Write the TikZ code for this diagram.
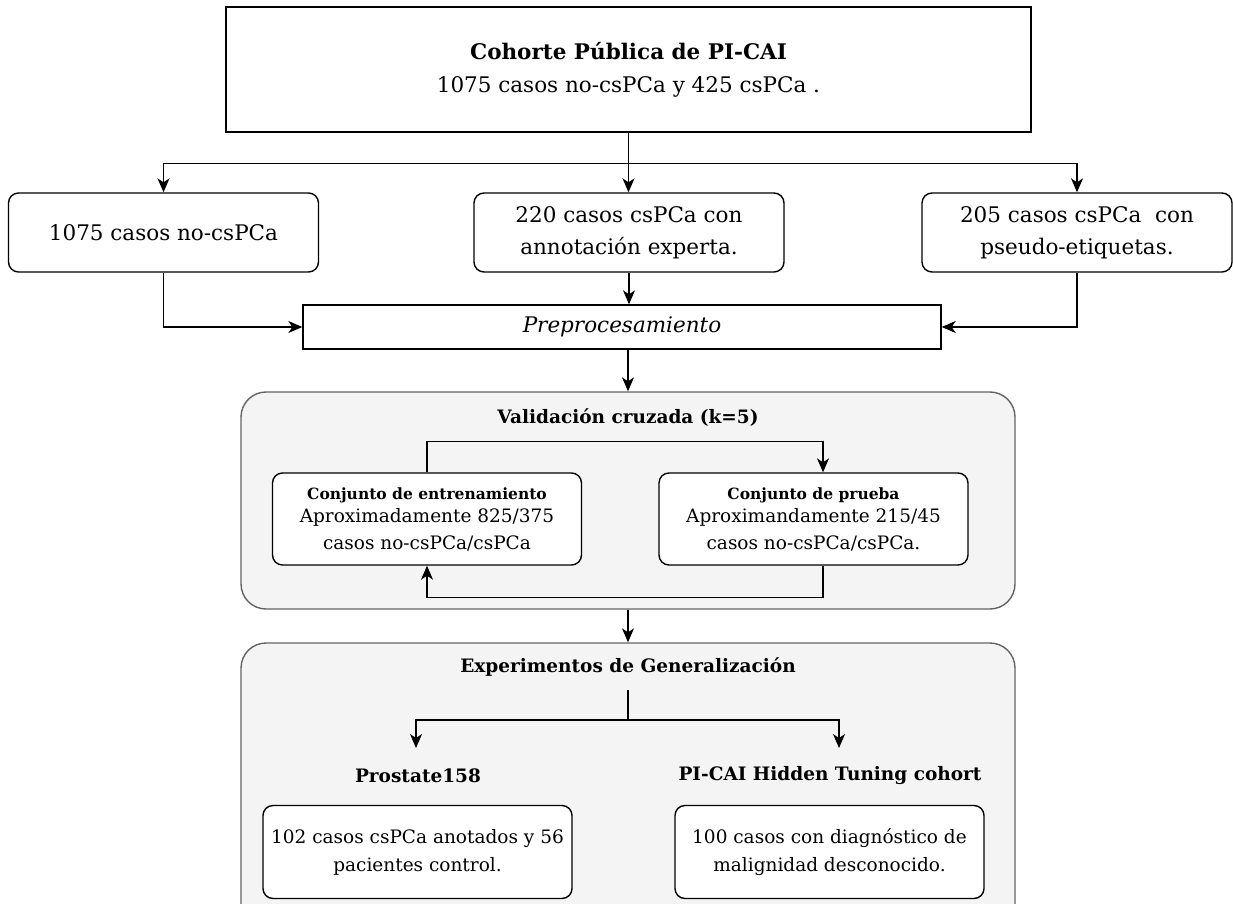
\documentclass[tikz,border=0pt]{standalone}
\usepackage{fontspec}
\setmainfont{DejaVu Serif}
\usetikzlibrary{arrows.meta,positioning,calc}
\definecolor{mypanel}{RGB}{244,244,244}
\definecolor{myedge}{RGB}{100,100,100}
\newcommand{\foldhead}{\fontsize{15.5}{18}\selectfont\bfseries}
\tikzset{
  cohort/.style={rectangle,draw=black,line width=1.4pt,fill=white,align=center,
    minimum width=805pt,minimum height=125pt,font=\fontsize{21.5}{33}\selectfont},
  subset/.style={rectangle,draw=black,line width=1.4pt,rounded corners=10pt,fill=white,
    align=center,minimum width=310pt,minimum height=79pt,font=\fontsize{21.5}{32}\selectfont},
  prep/.style={rectangle,draw=black,line width=1.4pt,fill=white,align=center,
    minimum width=638pt,minimum height=44pt,font=\fontsize{21.5}{24}\selectfont},
  panel/.style={rectangle,draw=myedge,line width=1.4pt,rounded corners=25pt,fill=mypanel,
    minimum width=774pt},
  paneltitle/.style={font=\fontsize{18.5}{22}\selectfont\bfseries,inner sep=0pt},
  fold/.style={rectangle,draw=black,line width=1.4pt,rounded corners=10pt,fill=white,
    align=center,minimum width=309pt,minimum height=92pt,font=\fontsize{18.5}{27}\selectfont},
  setname/.style={font=\fontsize{18.5}{22}\selectfont\bfseries,inner sep=0pt},
  extset/.style={rectangle,draw=black,line width=1.4pt,rounded corners=10pt,fill=white,
    align=center,minimum width=309pt,minimum height=93pt,font=\fontsize{18.5}{28}\selectfont},
  line/.style={line width=1.4pt,color=black},
  flow/.style={-{Stealth[length=14pt,width=12pt,inset=4pt]},line width=1.4pt,color=black},
}
\begin{document}
\begin{tikzpicture}[x=1pt,y=-1pt]
  \useasboundingbox (0,0) rectangle (1233,904);
  \clip (0,0) rectangle (1233,904);
  % cohort and subsets
  \node[cohort] (cohort) at (628.5,69.5) {\textbf{Cohorte Pública de PI-CAI}\\1075 casos no-csPCa y 425 csPCa .};
  \node[subset] (noc) at (163.5,232.5) {1075 casos no-csPCa};
  \node[subset] (expert) at (629,232.5) {220 casos csPCa con\\annotación experta.};
  \node[subset] (pseudo) at (1077,232.5) {205 casos csPCa\ \ con\\pseudo-etiquetas.};
  \node[prep] (prep) at (622,327) {\textit{Preprocesamiento}};
  \draw[line] (cohort.south) -- ++(0,31) coordinate (fork);
  \draw[flow] (fork) -| (noc.north);
  \draw[flow] (fork) -- (fork |- expert.north);
  \draw[flow] (fork) -| (pseudo.north);
  \draw[flow] (noc.south) |- (prep.west);
  \draw[flow] (expert.south) -- (expert.south |- prep.north);
  \draw[flow] (pseudo.south) |- (prep.east);
  % cross validation
  \node[panel,minimum height=217pt] (cv) at (628,500.5) {};
  \node[paneltitle] (cvtitle) at (628,418) {Validación cruzada (k=5)};
  \node[fold] (train) at (427,519) {{\foldhead Conjunto de entrenamiento}\\[-4pt]Aproximadamente 825/375\\casos no-csPCa/csPCa};
  \node[fold] (test) at (813.5,519) {{\foldhead Conjunto de prueba}\\[-4pt]Aproximandamente 215/45\\casos no-csPCa/csPCa.};
  \draw[flow] (train.north) -- ++(0,-31) -| ([xshift=9.5pt]test.north);
  \draw[flow] ([xshift=9.5pt]test.south) -- ++(0,32) -| (train.south);
  \draw[flow] (cv.north |- prep.south) -- (cv.north);
  % generalization
  \node[panel,minimum height=290pt] (gen) at (628,788) {};
  \draw[flow] (cv.south) -- (gen.north);
  \node[paneltitle] (gentitle) at (628,667) {Experimentos de Generalización};
  \coordinate (split) at (628,690);
  \coordinate (pend) at (416,748);
  \coordinate (hend) at (839,748);
  \draw[line] (split) -- ++(0,30) coordinate (splitmid);
  \draw[flow] (splitmid) -| (pend);
  \draw[flow] (splitmid) -| (hend);
  \node[setname] (pname) at (418,776) {Prostate158};
  \node[setname] (hname) at (830,776) {PI-CAI Hidden Tuning cohort};
  \node[extset] (prost) at (417.5,852) {102 casos csPCa anotados y 56\\pacientes control.};
  \node[extset] (hidden) at (829.5,852) {100 casos con diagnóstico de\\malignidad desconocido.};
\end{tikzpicture}
\end{document}
